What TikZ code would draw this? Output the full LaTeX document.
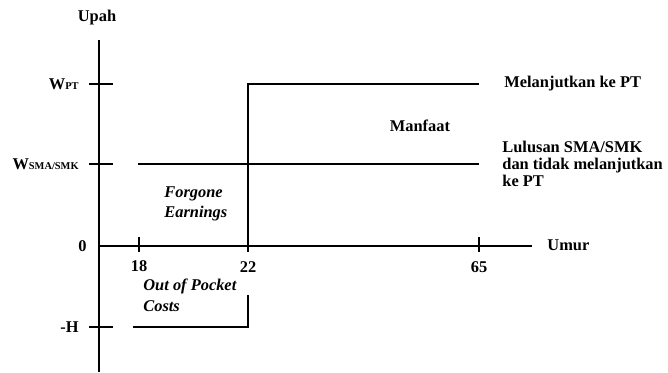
\documentclass[tikz,border=0pt]{standalone}
\usepackage{fontspec}
\setmainfont{Liberation Serif}
\usetikzlibrary{positioning}

\tikzset{
    axis/.style = {line width=1pt},
    tick/.style = {line width=.7pt},
    path/.style = {line width=1.1pt},
    lbl/.style  = {font=\fontsize{8.2}{8.5}\selectfont\bfseries, inner sep=0pt},
    itlbl/.style = {lbl, font=\fontsize{8.2}{10.3}\selectfont\bfseries\itshape, align=left},
}
\newcommand{\wsub}[1]{W{\fontsize{5.2}{5.2}\selectfont #1}}

\begin{document}
\begin{tikzpicture}[x=.5pt, y=-.5pt]
    \useasboundingbox (0, 0) rectangle (668, 372);

    %% axes
    \coordinate (O) at (99, 246);
    \coordinate (ytop) at (99, 40);
    \coordinate (ybot) at (99, 372);
    \coordinate (xend) at (532, 246);
    \draw[axis] (ytop) -- (ybot);
    \draw[axis] (O) -- (xend);

    %% ticks on the wage axis
    \foreach \y in {84, 164, 327}
        \draw[tick] (89, \y) -- (113, \y);
    %% ticks on the age axis
    \foreach \x in {139, 248, 479}
        \draw[tick] (\x, 237) -- (\x, 252);

    %% labels on the axes
    \node[lbl] (upah) at (97, 18) {Upah};
    \node[lbl, anchor=east] (wpt) at (79, 84) {\wsub{PT}};
    \node[lbl, anchor=east] (wsma) at (79, 164) {\wsub{SMA/SMK}};
    \node[lbl, anchor=east] (zero) at (87, 246) {0};
    \node[lbl, anchor=east] (minh) at (79, 327) {-H};
    \node[lbl] (t18) at (139, 266) {18};
    \node[lbl] (t22) at (248, 267) {22};
    \node[lbl] (t65) at (479, 267) {65};
    \node[lbl, anchor=west] (umur) at (547, 245) {Umur};

    %% earning paths
    \coordinate (sma1) at (138, 164);
    \coordinate (sma2) at (479, 164);
    \draw[path] (sma1) -- (sma2);

    \coordinate (pt0) at (248, 248);
    \coordinate (pt1) at (248, 84);
    \coordinate (pt2) at (479, 84);
    \draw[path] (pt0) -- (pt1) -- (pt2);

    \coordinate (h0) at (248, 295);
    \coordinate (h1) at (248, 327);
    \coordinate (h2) at (133, 327);
    \draw[path] (h0) -- (h1) -- (h2);

    %% texts
    \node[lbl] (manfaat) at (420, 126) {Manfaat};
    \node[lbl, anchor=west] (lanjut) at (504, 84) {Melanjutkan ke PT};
    \node[lbl, anchor=north west, align=left] (lulus) at (502, 141)
        {Lulusan SMA/SMK\\dan tidak melanjutkan\\ke PT};
    \node[itlbl, anchor=north west] (forgone) at (164, 186) {Forgone\\Earnings};
    \node[itlbl, anchor=north west] (oop) at (143, 279) {Out of Pocket\\Costs};
\end{tikzpicture}
\end{document}
